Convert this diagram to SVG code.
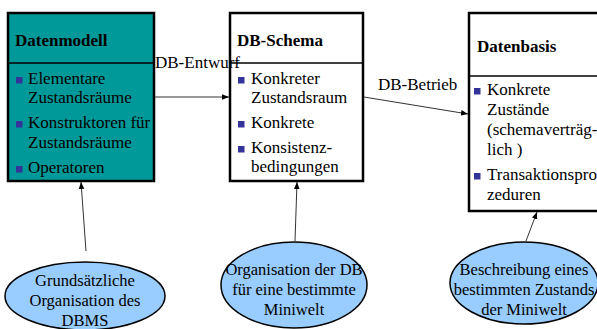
<svg xmlns="http://www.w3.org/2000/svg" width="597" height="329" viewBox="0 0 597 329" font-family="Liberation Serif, DejaVu Serif, serif">
<style>
text{font-family:'Liberation Serif','DejaVu Serif',serif;font-size:17px;fill:#000}
.t{font-weight:bold}
.e{font-size:16.5px;text-anchor:middle}
.box{stroke:#000;stroke-width:2.5}
.div{stroke:#000;stroke-width:1.5}
.b{fill:#333399}
.ell{fill:#99CCFF;stroke:#000;stroke-width:1.5}
.c{stroke:#333;stroke-width:1;fill:none;marker-end:url(#ah)}
</style>
<defs>
<marker id="ah" viewBox="0 0 10 10" refX="10" refY="5" markerWidth="7" markerHeight="7" markerUnits="userSpaceOnUse" orient="auto">
<path d="M0,1 L10,5 L0,9 z" fill="#000"/>
</marker>
</defs>
<g id="datenmodell">
<rect class="box" x="8" y="13" width="146" height="168" fill="#009999"/>
<line class="div" x1="8" y1="63" x2="154" y2="63"/>
<text class="t" x="15" y="46">Datenmodell</text>
<rect class="b" x="16" y="77" width="6.5" height="6.5"/>
<text x="28" y="84">Elementare</text>
<text x="28" y="103">Zustandsräume</text>
<rect class="b" x="16" y="121" width="6.5" height="6.5"/>
<text x="28" y="128">Konstruktoren für</text>
<text x="28" y="148">Zustandsräume</text>
<rect class="b" x="16" y="166" width="6.5" height="6.5"/>
<text x="28" y="173">Operatoren</text>
</g>
<g id="dbschema">
<rect class="box" x="230" y="13" width="133" height="168" fill="#fff"/>
<line class="div" x1="230" y1="63" x2="363" y2="63"/>
<text class="t" x="237" y="46">DB-Schema</text>
<rect class="b" x="238" y="77" width="6.5" height="6.5"/>
<text x="251" y="84">Konkreter</text>
<text x="251" y="103">Zustandsraum</text>
<rect class="b" x="238" y="121" width="6.5" height="6.5"/>
<text x="251" y="128">Konkrete</text>
<rect class="b" x="238" y="146" width="6.5" height="6.5"/>
<text x="251" y="153">Konsistenz-</text>
<text x="251" y="172">bedingungen</text>
</g>
<g id="datenbasis">
<rect class="box" x="469" y="13" width="150" height="198" fill="#fff"/>
<line class="div" x1="469" y1="76" x2="619" y2="76"/>
<text class="t" x="477" y="52">Datenbasis</text>
<rect class="b" x="474" y="88" width="6.5" height="6.5"/>
<text x="487" y="95">Konkrete</text>
<text x="487" y="115">Zustände</text>
<text x="487" y="135">(schemaverträg-</text>
<text x="487" y="155">lich )</text>
<rect class="b" x="474" y="173" width="6.5" height="6.5"/>
<text x="487" y="180">Transaktionspro</text>
<text x="487" y="200">zeduren</text>
</g>
<g id="ell1">
<ellipse class="ell" cx="85" cy="296" rx="80" ry="34"/>
<text class="e" x="85" y="286">Grundsätzliche</text>
<text class="e" x="85" y="306">Organisation des</text>
<text class="e" x="85" y="326">DBMS</text>
</g>
<g id="ell2">
<ellipse class="ell" cx="294" cy="285" rx="73" ry="43"/>
<text class="e" x="294" y="275">Organisation der DB</text>
<text class="e" x="294" y="295">für eine bestimmte</text>
<text class="e" x="294" y="315">Miniwelt</text>
</g>
<g id="ell3">
<ellipse class="ell" cx="524" cy="283" rx="74" ry="41"/>
<text class="e" x="524" y="275">Beschreibung eines</text>
<text class="e" x="524" y="295">bestimmten Zustands</text>
<text class="e" x="524" y="315">der Miniwelt</text>
</g>
<g id="connectors">
<line class="c" x1="155" y1="97" x2="229" y2="97"/>
<line class="c" x1="364" y1="97" x2="468" y2="114"/>
<line class="c" x1="86" y1="251" x2="81" y2="182"/>
<line class="c" x1="295" y1="241" x2="297" y2="182"/>
<line class="c" x1="526" y1="241" x2="537" y2="212"/>
<text x="155" y="68">DB-Entwurf</text>
<text x="378" y="90">DB-Betrieb</text>
</g>
</svg>
